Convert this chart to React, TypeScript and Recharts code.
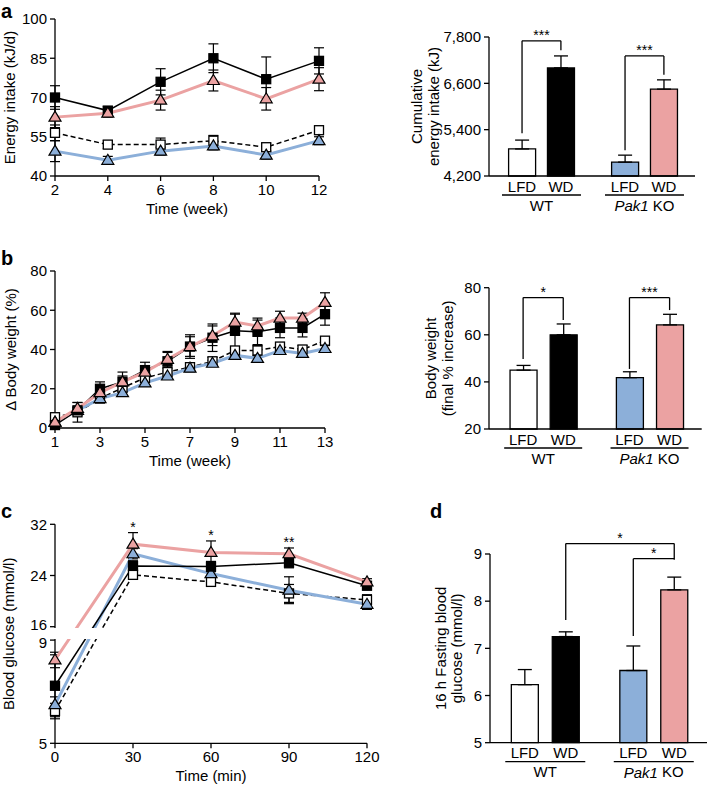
import React from 'react';
import { Bar, BarChart, Cell, ErrorBar, Line, LineChart, ReferenceDot, ReferenceLine, XAxis, YAxis } from 'recharts';

const FONT = '"Liberation Sans", Arial, Helvetica, sans-serif';
const FS = 15;
const PINK = '#eba2a2';
const BLUE = '#8cafd9';

// a: energy intake (kJ/d), weeks 2-12
const intakeWeeks = [2, 4, 6, 8, 10, 12];
const intakeWtLfd = [56.5, 52, 52, 53.5, 51, 57.5];
const intakeWtLfdErr = [3, 1.5, 2.5, 2, 1.5, 1.5];
const intakeKoLfd = [49.5, 46, 49.5, 51.5, 48, 53.5];
const intakeKoLfdErr = [4, 1.5, 1.5, 1.5, 1.5, 1.5];
const intakeWtWd = [70, 65, 76, 85, 77, 84];
const intakeWtWdErr = [4.5, 1.5, 5, 5.5, 8.5, 5];
const intakeKoWd = [62.5, 64, 69, 76.5, 69.5, 77];
const intakeKoWdErr = [4, 1.5, 3.8, 4, 4.3, 4.4];
const intakeTicks = [40, 55, 70, 85, 100];

// shared bar categories
const dietLabels = ['LFD', 'WD', 'LFD', 'WD'];
const genotypeLabels = ['WT', 'Pak1 KO'];

// a: cumulative energy intake (kJ)
const cumIntake = [4900, 7000, 4560, 6450];
const cumIntakeErr = [230, 310, 180, 240];
const cumIntakeTicks = [4200, 5400, 6600, 7800];
const cumIntakeSig = ['***', '***'];

// b: body weight change (%), weeks 1-13
const bwWeeks = [1, 2, 3, 4, 5, 6, 7, 8, 9, 10, 11, 12, 13];
const bwWtLfd = [5.5, 8, 15, 20.5, 25.5, 28.5, 31, 34, 39.5, 39.5, 41.5, 40, 44.5];
const bwWtLfdErr = [2, 5, 2, 2, 2, 2, 2, 2, 2, 3, 2, 2, 1.5];
const bwKoLfd = [3, 9, 15, 18, 23, 26.5, 30.5, 33, 37, 35.5, 39.5, 38, 40.5];
const bwKoLfdErr = [1, 1.5, 1.5, 1.5, 1.5, 1.5, 1.5, 1.5, 1.5, 1.5, 1.5, 1.5, 1.5];
const bwWtWd = [1.5, 9, 20, 23.5, 29.5, 34, 41.5, 46, 49.5, 49, 51, 51, 58];
const bwWtWdErr = [1.5, 2, 3.5, 5, 4, 5, 6, 7, 9, 7, 5, 4.6, 5.6];
const bwKoWd = [3, 10, 18, 23.5, 28.5, 35, 41.5, 47, 54, 52, 56, 56, 64];
const bwKoWdErr = [1, 3, 2.5, 3, 3, 3.5, 5, 5, 4, 3, 3.5, 2.5, 4.9];
const bwTicks = [0, 20, 40, 60, 80];
const bwWeekTicks = [1, 3, 5, 7, 9, 11, 13];

// b: final body weight (% increase)
const finalBw = [45, 60, 41.8, 64.2];
const finalBwErr = [2, 4.6, 2.5, 4.5];
const finalBwTicks = [20, 40, 60, 80];
const finalBwSig = ['*', '***'];

// c: glucose tolerance test (mmol/l)
const gttTime = [0, 30, 60, 90, 120];
const gttWtLfd = [6.25, 24.1, 23.0, 21.2, 20.2];
const gttWtLfdErr = [0.3, 0.6, 0.6, 1.4, 0.8];
const gttKoLfd = [6.5, 27.4, 24.3, 21.7, 19.5];
const gttKoLfdErr = [0.3, 0.8, 0.8, 2.1, 0.8];
const gttWtWd = [7.23, 25.5, 25.4, 26.0, 22.4];
const gttWtWdErr = [1.2, 0.8, 0.8, 0.8, 0.5];
const gttKoWd = [8.23, 28.9, 27.6, 27.4, 23.0];
const gttKoWdErr = [0.3, 1.8, 1.8, 0.9, 0.5];
const gttSig = ['', '*', '*', '**', ''];
const gttTickLabels = [5, 9, 16, 24, 32];

// d: 16 h fasting glucose (mmol/l)
const fastGlucose = [6.23, 7.25, 6.53, 8.24];
const fastGlucoseErr = [0.32, 0.1, 0.52, 0.27];
const fastGlucoseTicks = [5, 6, 7, 8, 9];
const fastGlucoseSig = ['*', '*'];

// broken y axis in c: 5-9 on the lower part, 16-32 compressed on top
const brk = (v: number) => (v <= 12 ? (v - 5) * 25.8 : 116.6 + (v - 16) * 6.4);
const gttTicks = gttTickLabels.map(brk);

const BAR_POS = [1, 2, 3.65, 4.65];
const GROUP_POS = [1.5, 4.15];
const BAR_FILLS = ['#fff', '#000', BLUE, PINK];

const SERIES_STYLE: Record<string, { stroke: string; width: number; dash?: string; marker: string; fill: string }> = {
  wtLfd: { stroke: '#000', width: 1.5, dash: '5 3', marker: 'square', fill: '#fff' },
  koLfd: { stroke: BLUE, width: 3, marker: 'tri', fill: BLUE },
  wtWd: { stroke: '#000', width: 1.5, marker: 'square', fill: '#000' },
  koWd: { stroke: PINK, width: 3, marker: 'tri', fill: PINK },
};

type Ser = { key: string; values: number[]; errors: number[] };

function buildRows(xKey: string, xs: number[], series: Ser[], tf = (v: number) => v) {
  return xs.map((x, i) => {
    const row: Record<string, any> = { [xKey]: x };
    series.forEach((s) => {
      const v = s.values[i];
      const e = s.errors[i];
      row[s.key] = tf(v);
      row[s.key + 'Err'] = [tf(v) - tf(v - e), tf(v + e) - tf(v)];
    });
    return row;
  });
}

function Marker({ cx, cy, kind, fill }: any) {
  if (cx == null || cy == null) return null;
  if (kind === 'tri') {
    return <path d={`M${cx},${cy - 6}L${cx + 6},${cy + 4}L${cx - 6},${cy + 4}Z`} fill={fill} stroke="#000" strokeWidth={1.2} />;
  }
  return <rect x={cx - 4.5} y={cy - 4.5} width={9} height={9} fill={fill} stroke="#000" strokeWidth={1.3} />;
}

const yTitle = (lines: string[], xs: number[]) => (props: any) => {
  const vb = props.viewBox || { x: 0, y: 0, width: 0, height: 0 };
  const cy = vb.y + vb.height / 2;
  return (
    <g>
      {lines.map((t, i) => {
        const x = vb.x + xs[i];
        return (
          <text key={i} x={x} y={cy} transform={`rotate(-90 ${x} ${cy})`} textAnchor="middle" dominantBaseline="central" fontSize={FS} fill="#000">
            {t}
          </text>
        );
      })}
    </g>
  );
};

// y tick for the broken axis: pull the two labels at the break apart a little
const gttYTick = (props: any) => {
  const { x, y, payload } = props;
  const label = gttTickLabels[gttTicks.indexOf(payload.value)];
  const nudge = label === 16 ? -2 : label === 9 ? 2 : 0;
  return (
    <text x={x} y={y + nudge} textAnchor="end" dominantBaseline="central" fontSize={FS} fill="#000">
      {label}
    </text>
  );
};

const AXIS_LINE = { stroke: '#000', strokeWidth: 1.3 };
const TICK = { fill: '#000', fontSize: FS };

function LinePanel(props: any) {
  const { top, width, plotTop, plotBottom, plotRight, rows, xKey, xDomain, xTicks, yDomain, yTicks, yTick, yLabel, yLabelX, xLabel, series, children } = props;
  const xh = 43;
  const height = plotBottom - top + xh;
  return (
    <div style={{ position: 'absolute', left: 0, top }}>
      <LineChart width={width} height={height} data={rows} margin={{ top: plotTop - top, right: width - plotRight, left: 0, bottom: 0 }}>
        <XAxis
          dataKey={xKey}
          type="number"
          domain={xDomain}
          ticks={xTicks}
          interval={0}
          height={xh}
          axisLine={AXIS_LINE}
          tickLine={AXIS_LINE}
          tickSize={5}
          tickMargin={3}
          tick={TICK}
          label={{ value: xLabel, position: 'insideBottom', offset: 5, fill: '#000', fontSize: FS }}
        />
        <YAxis
          type="number"
          domain={yDomain}
          ticks={yTicks}
          interval={0}
          width={55}
          axisLine={AXIS_LINE}
          tickLine={AXIS_LINE}
          tickSize={5}
          tickMargin={3}
          tick={yTick || TICK}
          label={yTitle([yLabel], [yLabelX])}
        />
        {series.map((key: string) => {
          const st = SERIES_STYLE[key];
          return (
            <Line
              key={key}
              dataKey={key}
              type="linear"
              stroke={st.stroke}
              strokeWidth={st.width}
              strokeDasharray={st.dash}
              isAnimationActive={false}
              activeDot={false}
              dot={(p: any) => <Marker key={`${key}-${p.index}`} cx={p.cx} cy={p.cy} kind={st.marker} fill={st.fill} />}
            >
              <ErrorBar dataKey={key + 'Err'} direction="y" width={5} stroke="#000" strokeWidth={1.2} />
            </Line>
          );
        })}
        {children}
      </LineChart>
    </div>
  );
}

const barTick = (half: number) => (props: any) => {
  const { x, y, payload } = props;
  const v = payload.value;
  const gi = GROUP_POS.findIndex((g) => Math.abs(g - v) < 1e-6);
  if (gi >= 0) {
    const name = genotypeLabels[gi];
    const parts = name.split(' ');
    return (
      <g>
        <line x1={x - half} x2={x + half} y1={y + 19} y2={y + 19} stroke="#000" strokeWidth={1.3} />
        <text x={x} y={y + 29} textAnchor="middle" dominantBaseline="central" fontSize={FS} fill="#000">
          {parts.length > 1 ? (
            <>
              <tspan fontStyle="italic">{parts[0]}</tspan> {parts.slice(1).join(' ')}
            </>
          ) : (
            name
          )}
        </text>
      </g>
    );
  }
  const bi = BAR_POS.findIndex((p) => Math.abs(p - v) < 1e-6);
  return (
    <text x={x} y={y + 10} textAnchor="middle" dominantBaseline="central" fontSize={FS} fill="#000">
      {dietLabels[bi]}
    </text>
  );
};

function BarPanel(props: any) {
  const { left, top, plotLeft, plotTop, plotRight, plotBottom, values, errors, yDomain, yTicks, yFormat, yLabel, yLabelX, brackets, half } = props;
  const width = 707 - left;
  const xh = 40;
  const height = plotBottom - top + xh;
  const rows = values.map((v: number, i: number) => ({ pos: BAR_POS[i], value: v, err: [0, errors[i]] }));
  return (
    <div style={{ position: 'absolute', left, top }}>
      <BarChart width={width} height={height} data={rows} margin={{ top: plotTop - top, right: 707 - plotRight, left: 0, bottom: 0 }}>
        <XAxis
          dataKey="pos"
          type="number"
          domain={[0.15, 5.45]}
          ticks={[...BAR_POS, ...GROUP_POS].sort((a, b) => a - b)}
          interval={0}
          height={xh}
          axisLine={AXIS_LINE}
          tickLine={false}
          tickSize={0}
          tickMargin={0}
          tick={barTick(half)}
        />
        <YAxis
          type="number"
          domain={yDomain}
          ticks={yTicks}
          interval={0}
          width={plotLeft - left}
          axisLine={AXIS_LINE}
          tickLine={AXIS_LINE}
          tickSize={5}
          tickMargin={3}
          tick={TICK}
          tickFormatter={yFormat}
          label={yTitle(yLabel, yLabelX)}
        />
        <Bar dataKey="value" barSize={27} stroke="#000" strokeWidth={1.3} isAnimationActive={false}>
          {rows.map((_: any, i: number) => (
            <Cell key={i} fill={BAR_FILLS[i]} />
          ))}
          <ErrorBar dataKey="err" direction="y" width={7} stroke="#000" strokeWidth={1.3} />
        </Bar>
        {brackets.map((b: any, i: number) => {
          const xa = BAR_POS[b.from];
          const xb = BAR_POS[b.to];
          return (
            <React.Fragment key={i}>
              <ReferenceLine segment={[{ x: xa, y: b.legs[0] }, { x: xa, y: b.legs[1] }]} stroke="#000" strokeWidth={1.3} ifOverflow="visible" />
              <ReferenceLine
                segment={[{ x: xa, y: b.legs[1] }, { x: xb, y: b.legs[1] }]}
                stroke="#000"
                strokeWidth={1.3}
                ifOverflow="visible"
                label={{ value: b.label, position: 'top', offset: 1, fill: '#000', fontSize: 14 }}
              />
              <ReferenceLine segment={[{ x: xb, y: b.legs[2] }, { x: xb, y: b.legs[1] }]} stroke="#000" strokeWidth={1.3} ifOverflow="visible" />
            </React.Fragment>
          );
        })}
      </BarChart>
    </div>
  );
}

const letter = (ch: string, left: number, top: number) => (
  <div style={{ position: 'absolute', left, top, fontSize: 20, fontWeight: 'bold', lineHeight: '16px' }}>{ch}</div>
);

const ORDER = ['wtLfd', 'koLfd', 'wtWd', 'koWd'];

export default function App() {
  const intakeRows = buildRows('week', intakeWeeks, [
    { key: 'wtLfd', values: intakeWtLfd, errors: intakeWtLfdErr },
    { key: 'koLfd', values: intakeKoLfd, errors: intakeKoLfdErr },
    { key: 'wtWd', values: intakeWtWd, errors: intakeWtWdErr },
    { key: 'koWd', values: intakeKoWd, errors: intakeKoWdErr },
  ]);
  const bwRows = buildRows('week', bwWeeks, [
    { key: 'wtLfd', values: bwWtLfd, errors: bwWtLfdErr },
    { key: 'koLfd', values: bwKoLfd, errors: bwKoLfdErr },
    { key: 'wtWd', values: bwWtWd, errors: bwWtWdErr },
    { key: 'koWd', values: bwKoWd, errors: bwKoWdErr },
  ]);
  const gttRows = buildRows(
    'min',
    gttTime,
    [
      { key: 'wtLfd', values: gttWtLfd, errors: gttWtLfdErr },
      { key: 'koLfd', values: gttKoLfd, errors: gttKoLfdErr },
      { key: 'wtWd', values: gttWtWd, errors: gttWtWdErr },
      { key: 'koWd', values: gttKoWd, errors: gttKoWdErr },
    ],
    brk,
  );

  return (
    <div style={{ position: 'relative', width: 707, height: 786, background: '#fff', fontFamily: FONT, color: '#000', overflow: 'hidden' }}>
      <style>{'body{margin:0;background:#fff}'}</style>

      <LinePanel
        top={0}
        width={330}
        plotTop={19}
        plotBottom={176}
        plotRight={319}
        rows={intakeRows}
        xKey="week"
        xDomain={[2, 12]}
        xTicks={intakeWeeks}
        yDomain={[40, 100]}
        yTicks={intakeTicks}
        yLabel="Energy intake (kJ/d)"
        yLabelX={9}
        xLabel="Time (week)"
        series={ORDER}
      />
      <BarPanel
        left={360}
        top={0}
        plotLeft={489}
        plotTop={37}
        plotRight={695}
        plotBottom={176}
        values={cumIntake}
        errors={cumIntakeErr}
        yDomain={[4200, 7800]}
        yTicks={cumIntakeTicks}
        yFormat={(v: number) => v.toLocaleString('en-US')}
        yLabel={['Cumulative', 'energy intake (kJ)']}
        yLabelX={[56, 73]}
        half={39.5}
        brackets={[
          { from: 0, to: 1, legs: [5310, 7700, 7460], label: cumIntakeSig[0] },
          { from: 2, to: 3, legs: [4870, 7310, 6820], label: cumIntakeSig[1] },
        ]}
      />

      <LinePanel
        top={250}
        width={340}
        plotTop={271}
        plotBottom={428}
        plotRight={325}
        rows={bwRows}
        xKey="week"
        xDomain={[1, 13]}
        xTicks={bwWeekTicks}
        yDomain={[0, 80]}
        yTicks={bwTicks}
        yLabel="Δ Body weight (%)"
        yLabelX={10}
        xLabel="Time (week)"
        series={ORDER}
      />
      <BarPanel
        left={360}
        top={250}
        plotLeft={489}
        plotTop={287.7}
        plotRight={701.7}
        plotBottom={429}
        values={finalBw}
        errors={finalBwErr}
        yDomain={[20, 80]}
        yTicks={finalBwTicks}
        yLabel={['Body weight', '(final % increase)']}
        yLabelX={[71, 88]}
        half={39}
        brackets={[
          { from: 0, to: 1, legs: [49.7, 75.8, 66.3], label: finalBwSig[0] },
          { from: 2, to: 3, legs: [45.5, 75.8, 70.5], label: finalBwSig[1] },
        ]}
      />

      <LinePanel
        top={510}
        width={380}
        plotTop={524.3}
        plotBottom={743.3}
        plotRight={367}
        rows={gttRows}
        xKey="min"
        xDomain={[0, 120]}
        xTicks={gttTime}
        yDomain={[0, brk(32)]}
        yTicks={gttTicks}
        yTick={gttYTick}
        yLabel="Blood glucose (mmol/l)"
        yLabelX={8}
        xLabel="Time (min)"
        series={ORDER}
      >
        {gttSig.map((s, i) =>
          s ? (
            <ReferenceDot
              key={i}
              x={gttTime[i]}
              y={brk(gttKoWd[i] + gttKoWdErr[i])}
              r={0}
              fill="none"
              stroke="none"
              ifOverflow="visible"
              label={{ value: s, position: 'top', offset: 1, fill: '#000', fontSize: 14 }}
            />
          ) : null,
        )}
      </LinePanel>
      {/* axis break gap */}
      <div style={{ position: 'absolute', left: 46, top: 628, width: 100, height: 11, background: '#fff' }} />

      <BarPanel
        left={360}
        top={510}
        plotLeft={490}
        plotTop={554}
        plotRight={707}
        plotBottom={742.7}
        values={fastGlucose}
        errors={fastGlucoseErr}
        yDomain={[5, 9]}
        yTicks={fastGlucoseTicks}
        yLabel={['16 h Fasting blood', 'glucose (mmol/l)']}
        yLabelX={[81, 97]}
        half={40}
        brackets={[
          { from: 1, to: 3, legs: [7.6, 9.22, 8.88], label: fastGlucoseSig[0] },
          { from: 2, to: 3, legs: [7.26, 8.9, 8.9], label: fastGlucoseSig[1] },
        ]}
      />

      {letter('a', 1, 3)}
      {letter('b', 1, 250)}
      {letter('c', 1, 503)}
      {letter('d', 430, 503)}
    </div>
  );
}
